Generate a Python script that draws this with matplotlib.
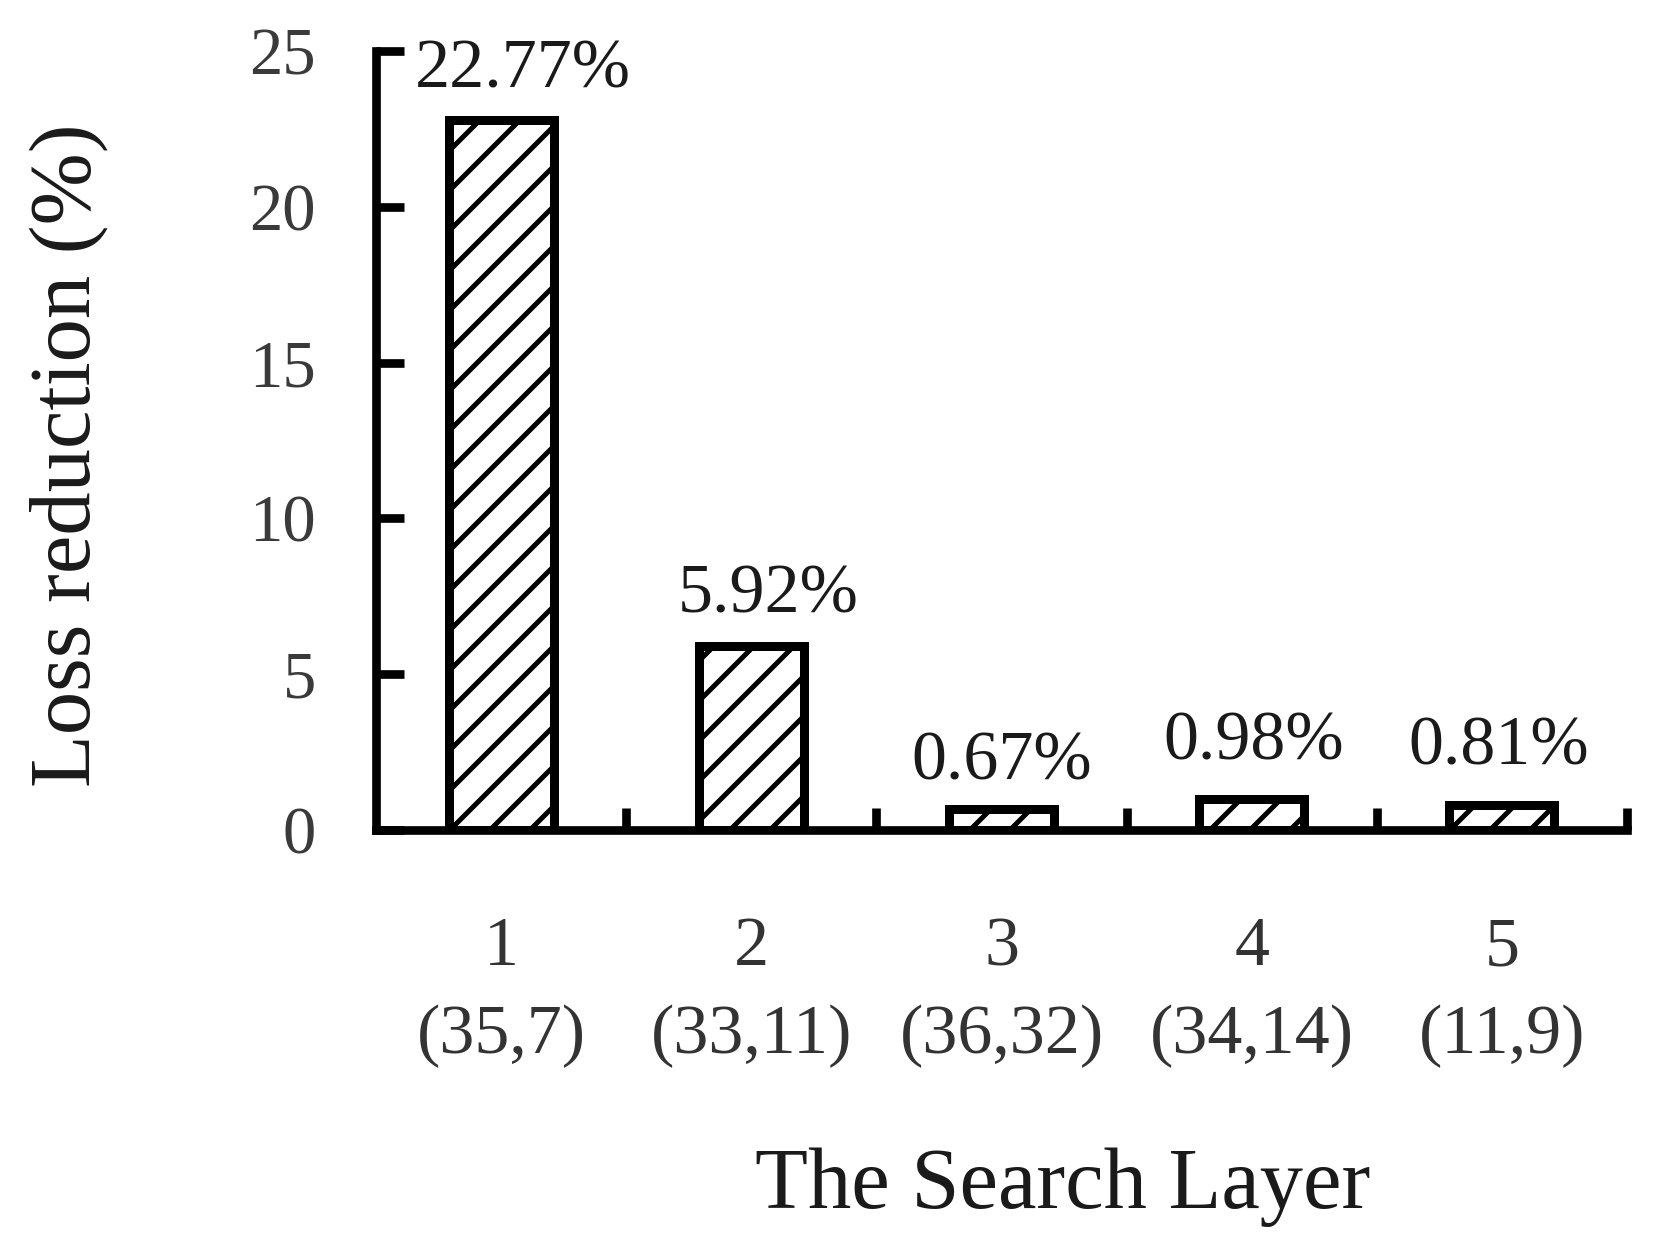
import matplotlib
matplotlib.use("Agg")
import matplotlib.pyplot as plt
import numpy as np

layers = ["1", "2", "3", "4", "5"]
pairs = ["(35,7)", "(33,11)", "(36,32)", "(34,14)", "(11,9)"]
loss_reduction = [22.77, 5.92, 0.67, 0.98, 0.81]
value_labels = ["22.77%", "5.92%", "0.67%", "0.98%", "0.81%"]
y_ticks = [0, 5, 10, 15, 20, 25]

# small label nudges (points), layout only
label_dx = [6.5, 5.0, 0.0, 0.5, -1.0]
label_dy = [10, 10, 9, 12, 12]

plt.rcParams['font.family'] = ['Liberation Serif', 'DejaVu Serif']
plt.rcParams['hatch.linewidth'] = 1.5
plt.rcParams['hatch.color'] = 'black'

DPI = 240
fig = plt.figure(figsize=(1659 / DPI, 1248 / DPI), dpi=DPI)
ax = fig.add_axes([376 / 1659, 1 - 830 / 1248, (1627 - 376) / 1659, (830 - 51) / 1248])

x = np.arange(1, len(loss_reduction) + 1)
ax.bar(x, loss_reduction, width=0.42, facecolor='white', edgecolor='black',
       linewidth=2.7, hatch='//', zorder=2)

for xi, v, lab, dx, dy in zip(x, loss_reduction, value_labels, label_dx, label_dy):
    ax.annotate(lab, (xi, v), xytext=(dx, dy), textcoords='offset points',
                ha='center', va='baseline', fontsize=21, color='#1a1a1a')

ax.set_xlim(0.5, len(x) + 0.5)
ax.set_ylim(0, 25)
ax.set_yticks(y_ticks)
ax.set_yticklabels([str(t) for t in y_ticks], fontsize=20, color='#3a3a3a')

ax.set_xticks(x + 0.5)
ax.set_xticklabels([])
ax.tick_params(axis='x', direction='in', length=6.5, width=2.6)
ax.tick_params(axis='y', direction='in', length=8.5, width=2.6, pad=18)

for xi, l1, l2 in zip(x, layers, pairs):
    ax.annotate(l1 + "\n" + l2, (xi, 0), xytext=(0, -26), textcoords='offset points',
                ha='center', va='top', fontsize=21, color='#333333',
                linespacing=1.5, annotation_clip=False)

for s in ['top', 'right']:
    ax.spines[s].set_visible(False)
for s in ['left', 'bottom']:
    ax.spines[s].set_linewidth(2.6)

fig.text(69 / 1659, 1 - 455 / 1248, "Loss reduction (%)", rotation=90,
         ha='center', va='center', fontsize=26, color='#1a1a1a')
fig.text(1063 / 1659, 1 - 1187 / 1248, "The Search Layer",
         ha='center', va='center', fontsize=26, color='#1a1a1a')

fig.savefig("out.png", dpi=DPI)
